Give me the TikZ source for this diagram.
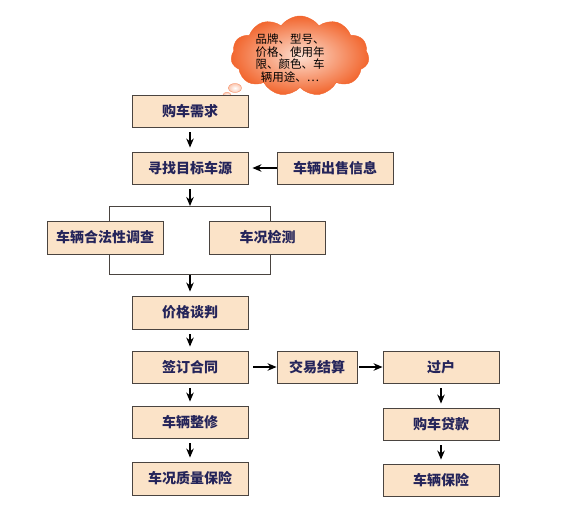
\documentclass[tikz,border=0pt]{standalone}
\usepackage{fontspec}
\newfontfamily\cjk{Noto Sans CJK SC}
\usetikzlibrary{arrows.meta,shapes.symbols,shapes.geometric}
\definecolor{boxfill}{HTML}{FBE3C8}
\definecolor{boxline}{HTML}{4A4440}
\definecolor{boxtext}{HTML}{24245A}
\definecolor{cloudout}{HTML}{F2662E}
\definecolor{cloudin}{HTML}{FDE0D2}
\tikzset{
    stepbox/.style={draw=boxline, fill=boxfill, line width=0.9pt, minimum width=116pt, minimum height=32pt, inner sep=0pt, font=\cjk\bfseries\fontsize{14}{16}\selectfont, text=boxtext},
    flow/.style={-{Stealth[length=9pt,width=7.5pt]}, line width=1.2pt, shorten <=5pt, shorten >=4pt},
    bracket/.style={line width=0.9pt, draw=boxline},
    puff/.style={ellipse, draw=cloudout!70, inner color=white, outer color=cloudin!80!cloudout, inner sep=0pt}
}
\begin{document}
\begin{tikzpicture}[x=1pt, y=-1pt]
    \useasboundingbox (0,0) rectangle (575,527);

    % cloud with the wishes
    \node[cloud, cloud puffs=11, cloud puff arc=110, aspect=1.7, minimum width=138pt, minimum height=80pt, draw=cloudout, inner color=cloudin, outer color=cloudout] (wish) at (300,56) {};
    \node[puff, minimum width=13pt, minimum height=9pt] (puffa) at (235,88) {};
    \node[puff, minimum width=8pt, minimum height=5.5pt] (puffb) at (227,95) {};
    \node[align=center, font=\cjk\fontsize{11.5}{12.5}\selectfont] (wishtext) at (290,58) {品牌、型号、\\价格、使用年\\限、颜色、车\\辆用途、…};

    % left column
    \node[stepbox] (need) at (190,111) {购车需求};
    \node[stepbox] (find) at (190,168) {寻找目标车源};
    \node[stepbox] (info) at (335,168) {车辆出售信息};
    \node[stepbox, minimum height=33pt] (legal) at (105,237.5) {车辆合法性调查};
    \node[stepbox, minimum height=33pt] (check) at (267.5,237.5) {车况检测};
    \node[stepbox, minimum height=33pt] (price) at (190,312.5) {价格谈判};
    \node[stepbox] (sign) at (190,367) {签订合同};
    \node[stepbox] (repair) at (190,422) {车辆整修};
    \node[stepbox, minimum height=33pt] (warranty) at (190,478.5) {车况质量保险};

    % right column
    \node[stepbox, minimum width=80pt] (settle) at (317,367) {交易结算};
    \node[stepbox] (transfer) at (441,367) {过户};
    \node[stepbox] (loan) at (441,424) {购车贷款};
    \node[stepbox] (insure) at (441,480) {车辆保险};

    \coordinate (split) at (190,206);
    \coordinate (join) at (190,274);
    \coordinate (lft) at (109,0);
    \coordinate (rgt) at (270,0);

    \draw[bracket] (legal.north -| lft) |- (split -| rgt) -- (check.north -| rgt);
    \draw[bracket] (legal.south -| lft) |- (join -| rgt) -- (check.south -| rgt);

    \draw[flow] (need) -- (find);
    \draw[flow, shorten <=0pt] (info) -- (find);
    \draw[flow, shorten >=0pt] (find) -- (split);
    \draw[flow, shorten <=1pt] (join) -- (price);
    \draw[flow] (price) -- (sign);
    \draw[flow] (sign) -- (repair);
    \draw[flow] (repair) -- (warranty);
    \draw[flow, shorten >=0pt] (sign) -- (settle);
    \draw[flow, shorten >=0pt, shorten <=2pt] (settle) -- (transfer);
    \draw[flow] (transfer) -- (loan);
    \draw[flow] (loan) -- (insure);
\end{tikzpicture}
\end{document}
